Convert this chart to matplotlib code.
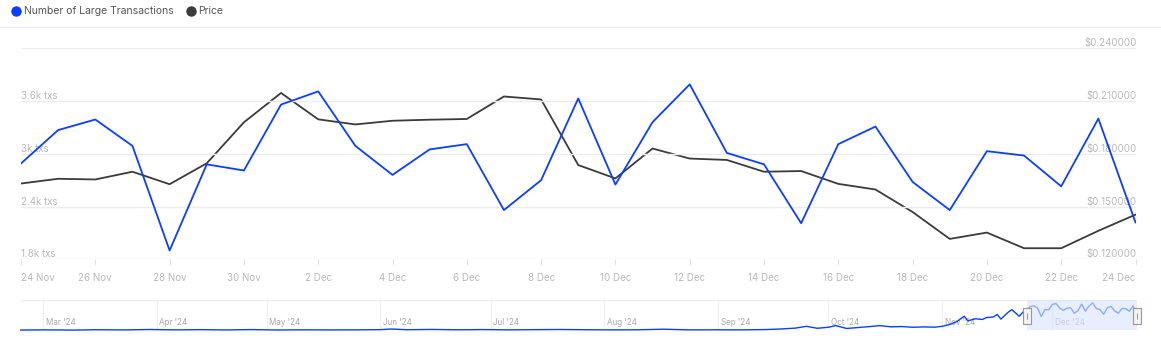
import matplotlib.pyplot as plt
import matplotlib.dates as mdates
from matplotlib.lines import Line2D
from matplotlib.transforms import blended_transform_factory
import numpy as np
import pandas as pd

# ---- data ----
dates = pd.date_range("2024-11-24", "2024-12-24", freq="D")
large_txs = [2890, 3270, 3390, 3090, 1900, 2880, 2810,
             3560, 3710, 3090, 2760, 3050, 3110, 2360, 2700, 3630, 2650, 3360,
             3790, 3010, 2880, 2210, 3110, 3310, 2680, 2360, 3030, 2980, 2630,
             3400, 2220]
price = [0.1631, 0.1658, 0.1654, 0.1698, 0.1627, 0.1746, 0.1979,
         0.2146, 0.1996, 0.1967, 0.1988, 0.1994, 0.1998, 0.2126, 0.2109,
         0.1736, 0.1660, 0.1830, 0.1773, 0.1765, 0.1698, 0.1702, 0.1629,
         0.1597, 0.1469, 0.1316, 0.1352, 0.1263, 0.1263, 0.1362, 0.1454]

txs_ticks = [1800, 2400, 3000, 3600, 4200]
txs_labels = ["1.8k txs", "2.4k txs", "3k txs", "3.6k txs", ""]
price_ticks = [0.12, 0.15, 0.18, 0.21, 0.24]
price_labels = ["$0.120000", "$0.150000", "$0.180000", "$0.210000", "$0.240000"]

# navigator history before the selected window
nav_dates = ["2024-02-24", "2024-03-02", "2024-03-09", "2024-03-16", "2024-03-23",
             "2024-03-30", "2024-04-06", "2024-04-13", "2024-04-20", "2024-04-27",
             "2024-05-04", "2024-05-11", "2024-05-18", "2024-05-25", "2024-06-01",
             "2024-06-04", "2024-06-08", "2024-06-15", "2024-06-22", "2024-06-29",
             "2024-07-06", "2024-07-13", "2024-07-20", "2024-07-27", "2024-08-03",
             "2024-08-10", "2024-08-17", "2024-08-24", "2024-08-31", "2024-09-07",
             "2024-09-14", "2024-09-18", "2024-09-22", "2024-09-25", "2024-09-28",
             "2024-10-01", "2024-10-03", "2024-10-06", "2024-10-09", "2024-10-12",
             "2024-10-15", "2024-10-18", "2024-10-21", "2024-10-24", "2024-10-27",
             "2024-10-30", "2024-11-01", "2024-11-03", "2024-11-05", "2024-11-07",
             "2024-11-08", "2024-11-10", "2024-11-12", "2024-11-13", "2024-11-15",
             "2024-11-16", "2024-11-17", "2024-11-19", "2024-11-20", "2024-11-21",
             "2024-11-22", "2024-11-23"]
nav_txs = [40, 60, 30, 80, 50,
           110, 60, 90, 50, 100,
           40, 70, 50, 60, 90,
           180, 80, 120, 70, 100,
           60, 90, 110, 80, 60,
           70, 150, 60, 70, 60,
           100, 180, 300, 550, 280,
           420, 650, 250, 380, 500,
           650, 480, 520, 420, 470,
           430, 550, 800, 1200, 1950,
           1300, 1600, 1500, 1750, 1850,
           2200, 1550, 2500, 2850, 2400,
           1950, 2500]
nav_months = ["2024-03-01", "2024-04-01", "2024-05-01", "2024-06-01", "2024-07-01",
              "2024-08-01", "2024-09-01", "2024-10-01", "2024-11-01", "2024-12-01"]

BLUE = "#0b3fff"
DARK = "#3b3b3b"
GRID = "#ececec"
LABEL = "#b8b8b8"

plt.rcParams["font.family"] = ["Inter", "DejaVu Sans"]

W, H = 1161, 353
fig = plt.figure(figsize=(W / 100, H / 100), dpi=100)


def px_box(x0, y0, x1, y1):
    # pixel box (top-left origin) -> figure fraction rect
    return [x0 / W, 1 - y1 / H, (x1 - x0) / W, (y1 - y0) / H]


# ---- legend ----
fig.add_artist(Line2D([16 / W], [1 - 11 / H], marker="o", markersize=6.5,
                      color=BLUE, linestyle="none"))
fig.text(24.5 / W, 1 - 10.5 / H, "Number of Large Transactions", fontsize=7.5,
         color="#555555", va="center")
fig.add_artist(Line2D([191 / W], [1 - 11 / H], marker="o", markersize=6.5,
                      color=DARK, linestyle="none"))
fig.text(198.5 / W, 1 - 10.5 / H, "Price", fontsize=7.5, color="#555555", va="center")
fig.add_artist(Line2D([0, 1], [1 - 26.5 / H] * 2, color="#efefef", lw=1))

# ---- main chart ----
ax = fig.add_axes(px_box(21, 48.3, 1135.5, 259.3))
ax2 = ax.twinx()

ax.set_xlim(dates[0], dates[-1])
ax.set_ylim(1800, 4200)
ax2.set_ylim(0.12, 0.24)
ax.set_yticks(txs_ticks)
ax2.set_yticks(price_ticks)
ax.yaxis.grid(True, color=GRID, lw=1)
ax.set_axisbelow(True)
ax.tick_params(axis="y", length=0, labelleft=False)
ax2.tick_params(axis="y", length=0, labelright=False)
for a in (ax, ax2):
    for s in a.spines.values():
        s.set_visible(False)

left_tr = blended_transform_factory(ax.transAxes, ax.transData)
for v, lab in zip(txs_ticks, txs_labels):
    ax.annotate(lab, (0.0, v), xycoords=left_tr, xytext=(0, 1.3),
                textcoords="offset points", fontsize=7, color=LABEL,
                ha="left", va="baseline")
right_tr = blended_transform_factory(ax2.transAxes, ax2.transData)
for v, lab in zip(price_ticks, price_labels):
    ax2.annotate(lab, (1.0, v), xycoords=right_tr, xytext=(1, 1.3),
                 textcoords="offset points", fontsize=7, color=LABEL,
                 ha="right", va="baseline")

xt = dates[::2]
ax.set_xticks(xt)
ax.set_xticklabels([f"{d.day} {d.strftime('%b')}" for d in xt])
ax.tick_params(axis="x", length=4.5, width=0.8, color="#e3e3e3",
               labelcolor=LABEL, labelsize=7, pad=5.5)
tl = ax.get_xticklabels()
tl[0].set_ha("left")
tl[-1].set_ha("right")

ax2.plot(dates, price, color=DARK, lw=1.3, zorder=3)
ax.plot(dates, large_txs, color=BLUE, lw=1.3, zorder=4)
ax.set_zorder(ax2.get_zorder() + 1)
ax.patch.set_visible(False)

# ---- navigator ----
nav = fig.add_axes(px_box(20.7, 300.3, 1136.7, 330.3))
nav_x = list(pd.to_datetime(nav_dates)) + list(dates)
nav_y = nav_txs + large_txs
nav.set_xlim(pd.Timestamp("2024-02-24"), dates[-1])
nav.set_ylim(0, 4150)
for s in nav.spines.values():
    s.set_visible(False)
nav.axhline(4150, color=GRID, lw=1)
nav.set_xticks([])
nav.set_yticks([])
month_days = pd.to_datetime(nav_months)
for m in month_days:
    nav.axvline(m, color="#f0f0f0", lw=1, zorder=0)
    nav.annotate(m.strftime("%b '%y"), (mdates.date2num(m), 0), xytext=(2, 2.2),
                 textcoords="offset points", fontsize=5.8, color="#a8a8a8",
                 ha="left", va="bottom", zorder=1)
nav.plot(nav_x, nav_y, color=BLUE, lw=1, clip_on=False, zorder=2)
nav.axvspan(dates[0], dates[-1], color="#d9e5ff", alpha=0.65, lw=0, zorder=3)
handle = [(-0.5, -1), (0.5, -1), (0.5, 1), (-0.5, 1), (-0.5, -1)]
for d in (dates[0], dates[-1]):
    nav.plot([d], [1950], marker=handle, markersize=11, markerfacecolor="#f2f2f2",
             markeredgecolor="#999999", markeredgewidth=0.8, clip_on=False,
             zorder=5)
    nav.plot([d], [1950], marker="|", markersize=4.5, color="#999999",
             markeredgewidth=0.7, clip_on=False, zorder=6)

fig.savefig("out.png", dpi=100)
